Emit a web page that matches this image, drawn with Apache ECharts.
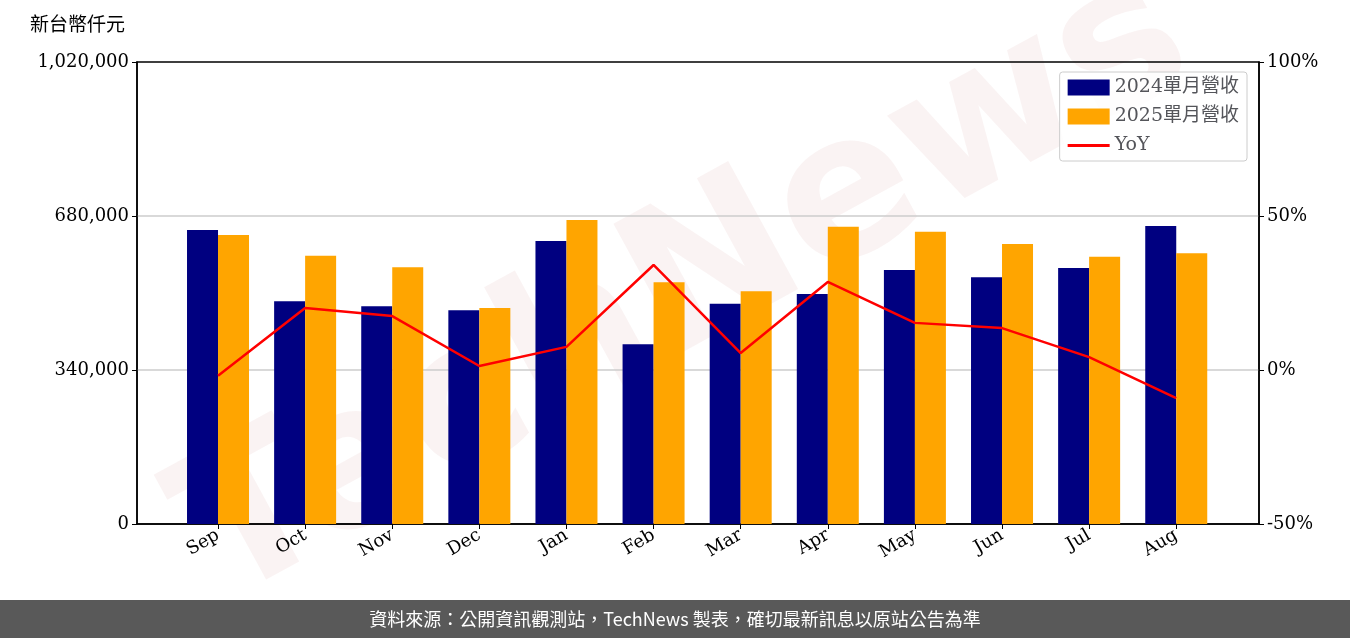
<!DOCTYPE html>
<html><head><meta charset="utf-8">
<script src="https://cdn.jsdelivr.net/npm/echarts@6/dist/echarts.min.js"></script>
<style>html,body{margin:0;padding:0;background:#fff}#c{width:1350px;height:638px}</style>
</head><body><div id="c"></div>
<script>
const categories=['Sep','Oct','Nov','Dec','Jan','Feb','Mar','Apr','May','Jun','Jul','Aug'];
const rev2024=[649000,492000,481000,472000,625000,397000,486000,508000,561000,545000,565000,658000];
const rev2025=[638000,592000,567000,477000,671000,534000,514000,656000,645000,618000,590000,598000];
const yoy=[-1.9,20.1,17.5,1.3,7.5,34.1,5.5,28.6,15.3,13.6,4.2,-9.1];
const f='DejaVu Serif';
const idx=categories.map((c,i)=>i);
const chart=echarts.init(document.getElementById('c'));
chart.setOption({
  animation:false,
  textStyle:{fontFamily:f},
  graphic:[
    {type:'text',left:30,top:14,style:{text:'新台幣仟元',font:'19px "Noto Sans CJK TC"',fill:'#000'}},
    {type:'text',x:150,y:470,rotation:0.5,z:-10,style:{text:'TechNews',font:'bold 200px "DejaVu Sans"',fill:'rgba(200,120,120,0.09)'}},
    {type:'rect',shape:{x:0,y:600,width:1350,height:38},style:{fill:'#595959'}},
    {type:'text',x:675,y:619,style:{text:'資料來源：公開資訊觀測站，TechNews 製表，確切最新訊息以原站公告為準',font:'18px "Noto Sans CJK TC"',fill:'#fff',align:'center',verticalAlign:'middle'}}
  ],
  grid:{left:137,right:91,top:62,bottom:114,show:true,borderColor:'#000',borderWidth:1.5,backgroundColor:'transparent'},
  legend:{right:103,top:72,orient:'vertical',itemGap:10,itemWidth:42,itemHeight:16,
    borderColor:'#ccc',borderWidth:1,borderRadius:3,padding:[6,8,6,8],backgroundColor:'rgba(255,255,255,0.8)',
    textStyle:{fontSize:19,fontFamily:'DejaVu Serif, "Noto Sans CJK TC"'},
    data:[{name:'2024單月營收',icon:'rect'},{name:'2025單月營收',icon:'rect'},{name:'YoY',icon:'path://M0,7 L42,7 L42,10 L0,10 Z'}]},
  xAxis:{type:'value',min:-0.93,max:11.95,splitLine:{show:false},
    axisTick:{show:true,customValues:idx,length:5,lineStyle:{color:'#000'}},
    axisLine:{lineStyle:{color:'#000',width:1.5}},
    axisLabel:{customValues:idx,formatter:v=>categories[Math.round(v)],rotate:30,fontSize:18,color:'#000',fontFamily:f,margin:10}},
  yAxis:[
    {type:'value',min:0,max:1020000,interval:340000,axisLine:{show:true,onZero:false,lineStyle:{color:'#000',width:1.5}},axisTick:{show:true,lineStyle:{color:'#000'}},
     axisLabel:{fontSize:18,color:'#000',fontFamily:f,formatter:v=>v.toLocaleString('en-US')},splitLine:{showMaxLine:false,showMinLine:false,lineStyle:{color:'#ccc',width:1.5}}},
    {type:'value',min:-50,max:100,interval:50,axisLine:{show:true,onZero:false,lineStyle:{color:'#000',width:1.5}},axisTick:{show:true,lineStyle:{color:'#000'}},
     axisLabel:{fontSize:18,color:'#000',fontFamily:f,formatter:'{value}%'},splitLine:{show:false}}
  ],
  series:[
    {name:'2024單月營收',type:'bar',data:rev2024.map((v,i)=>[i,v]),barWidth:31,barGap:'0%',itemStyle:{color:'#000080'}},
    {name:'2025單月營收',type:'bar',data:rev2025.map((v,i)=>[i,v]),barWidth:31,itemStyle:{color:'#FFA500'}},
    {name:'YoY',type:'line',yAxisIndex:1,data:yoy.map((v,i)=>[i,v]),symbol:'none',lineStyle:{color:'#FF0000',width:2.5},itemStyle:{color:'#FF0000'}}
  ]
});
</script></body></html>
